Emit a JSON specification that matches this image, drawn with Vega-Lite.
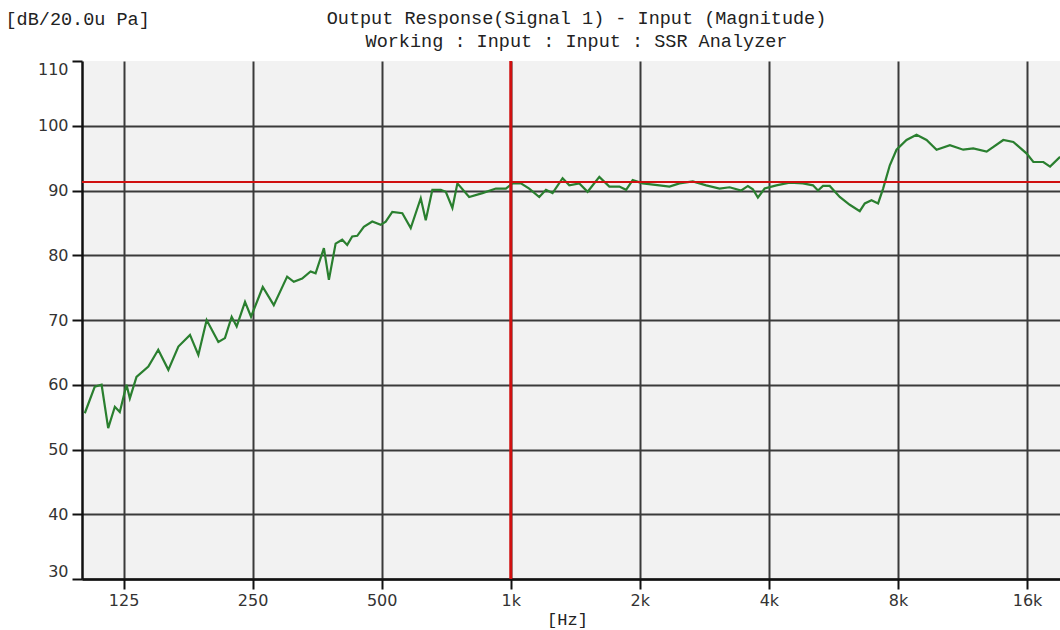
{
  "$schema": "https://vega.github.io/schema/vega-lite/v6.json",
  "width": 978,
  "height": 518,
  "autosize": {"type": "none"},
  "padding": {"left": 82, "top": 61, "right": 0, "bottom": 51},
  "background": "white",
  "config": {"view": {"fill": "#f2f2f2", "stroke": null}},
  "datasets": {
    "response": [
      {"freq": 101.5, "dB": 55.6}, {"freq": 107.1, "dB": 59.7}, {"freq": 111.1, "dB": 60.0}, {"freq": 115.1, "dB": 53.3},
      {"freq": 119.3, "dB": 56.6}, {"freq": 122.5, "dB": 55.8}, {"freq": 127.0, "dB": 60.0}, {"freq": 129.3, "dB": 57.9},
      {"freq": 134.0, "dB": 61.2}, {"freq": 142.8, "dB": 62.8}, {"freq": 150.6, "dB": 65.4}, {"freq": 159.0, "dB": 62.3},
      {"freq": 167.8, "dB": 65.9}, {"freq": 178.6, "dB": 67.7}, {"freq": 186.8, "dB": 64.6}, {"freq": 195.3, "dB": 70.0},
      {"freq": 208.0, "dB": 66.6}, {"freq": 215.5, "dB": 67.2}, {"freq": 223.4, "dB": 70.5}, {"freq": 229.5, "dB": 69.0},
      {"freq": 240.0, "dB": 72.8}, {"freq": 247.9, "dB": 70.5}, {"freq": 264.0, "dB": 75.1}, {"freq": 280.1, "dB": 72.3},
      {"freq": 300.9, "dB": 76.7}, {"freq": 311.9, "dB": 75.9}, {"freq": 326.2, "dB": 76.4}, {"freq": 341.3, "dB": 77.5},
      {"freq": 350.6, "dB": 77.2}, {"freq": 366.6, "dB": 81.1}, {"freq": 376.6, "dB": 76.2}, {"freq": 390.4, "dB": 81.8},
      {"freq": 404.5, "dB": 82.4}, {"freq": 415.5, "dB": 81.6}, {"freq": 426.8, "dB": 82.9}, {"freq": 438.5, "dB": 83.0},
      {"freq": 454.3, "dB": 84.4}, {"freq": 475.3, "dB": 85.2}, {"freq": 497.3, "dB": 84.7}, {"freq": 510.9, "dB": 85.2},
      {"freq": 529.3, "dB": 86.7}, {"freq": 558.6, "dB": 86.5}, {"freq": 584.4, "dB": 84.2}, {"freq": 616.7, "dB": 88.8},
      {"freq": 633.5, "dB": 85.4}, {"freq": 656.4, "dB": 90.1}, {"freq": 686.8, "dB": 90.1}, {"freq": 705.5, "dB": 89.8},
      {"freq": 731.0, "dB": 87.3}, {"freq": 750.9, "dB": 91.1}, {"freq": 799.7, "dB": 89.0}, {"freq": 859.0, "dB": 89.6},
      {"freq": 923.2, "dB": 90.3}, {"freq": 974.1, "dB": 90.3}, {"freq": 1009.3, "dB": 91.1}, {"freq": 1056.0, "dB": 91.1},
      {"freq": 1104.2, "dB": 90.3}, {"freq": 1165.4, "dB": 89.0}, {"freq": 1208.1, "dB": 90.1}, {"freq": 1251.7, "dB": 89.6},
      {"freq": 1321.0, "dB": 91.9}, {"freq": 1369.5, "dB": 90.8}, {"freq": 1445.1, "dB": 91.1}, {"freq": 1511.1, "dB": 89.8},
      {"freq": 1609.1, "dB": 92.1}, {"freq": 1698.1, "dB": 90.6}, {"freq": 1792.0, "dB": 90.6}, {"freq": 1857.8, "dB": 90.1},
      {"freq": 1924.9, "dB": 91.6}, {"freq": 2031.0, "dB": 91.1}, {"freq": 2222.0, "dB": 90.8}, {"freq": 2345.0, "dB": 90.6},
      {"freq": 2474.6, "dB": 91.1}, {"freq": 2658.0, "dB": 91.4}, {"freq": 2856.9, "dB": 90.8}, {"freq": 3068.6, "dB": 90.3},
      {"freq": 3238.3, "dB": 90.5}, {"freq": 3448.6, "dB": 90.0}, {"freq": 3573.3, "dB": 90.7}, {"freq": 3670.5, "dB": 90.2},
      {"freq": 3770.8, "dB": 88.9}, {"freq": 3909.0, "dB": 90.3}, {"freq": 4163.0, "dB": 90.8}, {"freq": 4471.4, "dB": 91.2},
      {"freq": 4802.5, "dB": 91.1}, {"freq": 5068.8, "dB": 90.8}, {"freq": 5207.0, "dB": 90.0}, {"freq": 5349.0, "dB": 90.7},
      {"freq": 5545.1, "dB": 90.7}, {"freq": 5851.9, "dB": 89.0}, {"freq": 6175.6, "dB": 87.8}, {"freq": 6516.8, "dB": 86.8},
      {"freq": 6694.5, "dB": 88.0}, {"freq": 6940.1, "dB": 88.5}, {"freq": 7190.8, "dB": 88.0}, {"freq": 7387.0, "dB": 90.3},
      {"freq": 7657.8, "dB": 93.9}, {"freq": 7938.4, "dB": 96.3}, {"freq": 8376.8, "dB": 97.8}, {"freq": 8839.6, "dB": 98.6},
      {"freq": 9328.0, "dB": 97.8}, {"freq": 9843.3, "dB": 96.3}, {"freq": 10574, "dB": 97.0}, {"freq": 11359, "dB": 96.3},
      {"freq": 11986, "dB": 96.5}, {"freq": 12881, "dB": 96.0}, {"freq": 14085, "dB": 97.8}, {"freq": 14865, "dB": 97.5},
      {"freq": 15975, "dB": 95.7}, {"freq": 16553, "dB": 94.4}, {"freq": 17466, "dB": 94.4}, {"freq": 18108, "dB": 93.7},
      {"freq": 19109, "dB": 95.2}
    ],
    "cursor": [{"freq": 1000, "level": 91.3}]
  },
  "layer": [
    {
      "data": {"name": "response"},
      "mark": {"type": "line", "color": "#2a7f2f", "strokeWidth": 2.2, "clip": true},
      "encoding": {
        "x": {
          "field": "freq", "type": "quantitative",
          "scale": {"type": "log", "domain": [100, 19100], "nice": false},
          "axis": {
            "orient": "bottom",
            "values": [125, 250, 500, 1000, 2000, 4000, 8000, 16000],
            "labelExpr": "datum.value >= 1000 ? (datum.value / 1000) + 'k' : '' + datum.value",
            "labelFont": "DejaVu Sans", "labelFontSize": 16, "labelColor": "#333", "labelPadding": 3,
            "tickSize": 10, "tickColor": "#111", "tickWidth": 2,
            "domainColor": "#111", "domainWidth": 2.5,
            "grid": true, "gridColor": "#3a3a3a", "gridWidth": 2,
            "title": "[Hz]", "titleFont": "Liberation Mono", "titleFontSize": 17, "titleFontWeight": "normal",
            "titleColor": "#222", "titleX": 485, "titleY": 40, "titleAlign": "center", "titleBaseline": "middle"
          }
        },
        "y": {
          "field": "dB", "type": "quantitative",
          "scale": {"domain": [30, 110], "nice": false, "zero": false},
          "axis": {
            "values": [30, 40, 50, 60, 70, 80, 90, 100, 110],
            "labelFont": "DejaVu Sans", "labelFontSize": 16, "labelColor": "#333", "labelPadding": 4, "labelFlush": true,
            "tickSize": 10, "tickColor": "#111", "tickWidth": 2,
            "domainColor": "#111", "domainWidth": 2.5,
            "grid": true, "gridColor": "#3a3a3a", "gridWidth": 2,
            "gridOpacity": {"condition": {"test": "datum.value >= 110", "value": 0}, "value": 1},
            "title": "[dB/20.0u Pa]", "titleAngle": 0, "titleAlign": "left", "titleBaseline": "top",
            "titleX": -77, "titleY": -52, "titleFont": "Liberation Mono", "titleFontSize": 18.5,
            "titleFontWeight": "normal", "titleColor": "#222"
          }
        }
      }
    },
    {
      "data": {"name": "cursor"},
      "mark": {"type": "rule", "color": "#d01010", "strokeWidth": 2},
      "encoding": {"y": {"field": "level", "type": "quantitative"}}
    },
    {
      "data": {"name": "cursor"},
      "mark": {"type": "rule", "color": "#d01010", "strokeWidth": 3},
      "encoding": {
        "x": {
          "field": "freq", "type": "quantitative",
          "axis": {
            "orient": "top", "labels": false, "ticks": false, "domain": false, "grid": false,
            "title": ["Output Response(Signal 1) - Input (Magnitude)", "Working : Input : Input : SSR Analyzer"],
            "titleX": 494, "titleY": -53, "titleAlign": "center", "titleBaseline": "top", "titleLineHeight": 23,
            "titleFont": "Liberation Mono", "titleFontSize": 18.5, "titleFontWeight": "normal", "titleColor": "#222"
          }
        }
      }
    }
  ],
  "resolve": {"axis": {"x": "independent"}}
}
